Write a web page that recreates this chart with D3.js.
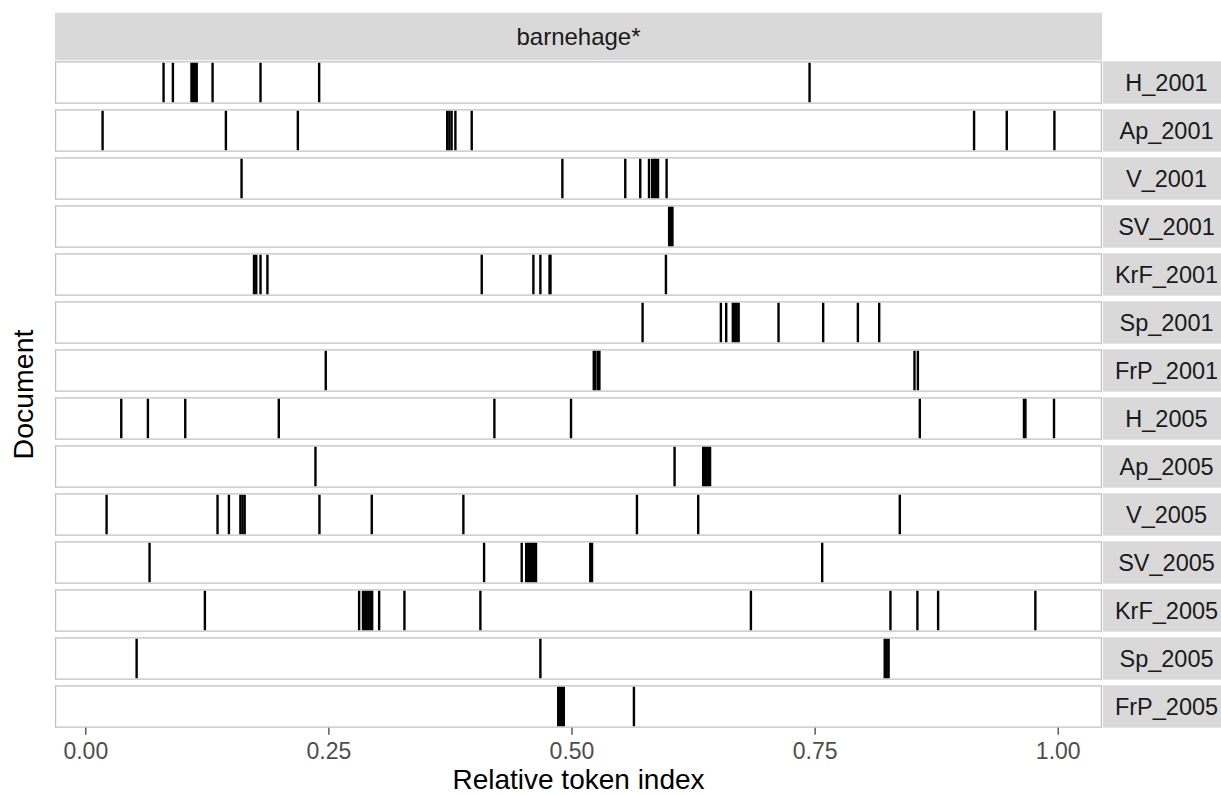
<!DOCTYPE html>
<html>
<head>
<meta charset="utf-8">
<script src="https://cdn.jsdelivr.net/npm/d3@7"></script>
<style>
  html, body { margin: 0; padding: 0; background: #fff; }
  svg { display: block; }
  text { font-family: "Liberation Sans", Arial, Helvetica, sans-serif; }
</style>
</head>
<body>
<svg id="chart" width="1221" height="795"></svg>
<script>
// ---- data ----
const term = "barnehage*";
const documents = ["H_2001", "Ap_2001", "V_2001", "SV_2001", "KrF_2001", "Sp_2001", "FrP_2001",
                   "H_2005", "Ap_2005", "V_2005", "SV_2005", "KrF_2005", "Sp_2005", "FrP_2005"];

const H_2001   = [0.0805, 0.0901, 0.1092, 0.1110, 0.1128, 0.1146, 0.1309, 0.1802, 0.2405, 0.7448];
const Ap_2001  = [0.0178, 0.1446, 0.2186, 0.3722, 0.3744, 0.3767, 0.3806, 0.3974, 0.914, 0.9476, 0.9966];
const V_2001   = [0.1607, 0.4906, 0.5553, 0.5707, 0.5797, 0.5829, 0.5849, 0.5869, 0.5890, 0.5978];
const SV_2001  = [0.6004, 0.6021, 0.6038];
const KrF_2001 = [0.1735, 0.1758, 0.1802, 0.1873, 0.4077, 0.4608, 0.468, 0.4774, 0.4784, 0.5971];
const Sp_2001  = [0.5731, 0.6536, 0.6591, 0.6659, 0.6679, 0.6699, 0.6719, 0.7129, 0.7588, 0.7945, 0.8164];
const FrP_2001 = [0.2473, 0.5229, 0.5245, 0.5271, 0.5287, 0.8527, 0.8562];
const H_2005   = [0.0370, 0.0644, 0.1028, 0.1990, 0.4207, 0.4995, 0.8582, 0.9653, 0.9668, 0.9962];
const Ap_2005  = [0.2367, 0.6060, 0.6354, 0.6372, 0.6390, 0.6408, 0.6425];
const V_2005   = [0.0219, 0.136, 0.1477, 0.1595, 0.1617, 0.1639, 0.2408, 0.2946, 0.3888, 0.5673, 0.6303, 0.8376];
const SV_2005  = [0.0661, 0.4101, 0.4488, 0.4534, 0.4554, 0.4574, 0.4595, 0.4615, 0.4635, 0.5193, 0.5211, 0.7578];
const KrF_2005 = [0.123, 0.2816, 0.2856, 0.2875, 0.2894, 0.2913, 0.2932, 0.2950, 0.3022, 0.3282, 0.4063,
                  0.6845, 0.828, 0.8557, 0.877, 0.977];
const Sp_2005  = [0.0528, 0.468, 0.8221, 0.8241, 0.8261];
const FrP_2005 = [0.4863, 0.4883, 0.4903, 0.4921, 0.5642];

const positions = [H_2001, Ap_2001, V_2001, SV_2001, KrF_2001, Sp_2001, FrP_2001,
                   H_2005, Ap_2005, V_2005, SV_2005, KrF_2005, Sp_2005, FrP_2005];

const xTicks = [0, 0.25, 0.5, 0.75, 1];
const xTitle = "Relative token index";
const yTitle = "Document";

// ---- layout ----
const panelLeft = 55, panelRight = 1102;
const panelTop = 61.3, panelBottom = 727.7;
const stripTop = 12.7, stripBottom = 60.3;
const rStripLeft = 1103, rStripRight = 1232;

const svg = d3.select("#chart");

// x scale with ggplot-like 5% expansion of the data range
const all = positions.flat();
const [mn, mx] = d3.extent(all);
const ex = (mx - mn) * 0.05;
const x = d3.scaleLinear().domain([mn - ex, mx + ex]).range([panelLeft, panelRight]);

const y = d3.scaleBand().domain(documents).range([panelTop, panelBottom])
  .paddingInner(0.1167).paddingOuter(0);

// top strip
svg.append("rect")
  .attr("x", panelLeft).attr("y", stripTop)
  .attr("width", panelRight - panelLeft).attr("height", stripBottom - stripTop)
  .attr("fill", "#D9D9D9");
svg.append("text")
  .attr("x", (panelLeft + panelRight) / 2).attr("y", 45)
  .attr("text-anchor", "middle")
  .attr("font-size", 24).attr("fill", "#1A1A1A")
  .text(term);

// panels
const rows = svg.append("g").selectAll("g.row")
  .data(documents.map((d, i) => ({ doc: d, vals: positions[i] })))
  .join("g").attr("class", "row");

rows.append("rect")
  .attr("x", panelLeft + 0.6).attr("y", d => y(d.doc) + 0.6)
  .attr("width", panelRight - panelLeft - 1.2).attr("height", y.bandwidth() - 1.2)
  .attr("fill", "#fff").attr("stroke", "#BEBEBE").attr("stroke-width", 1.2);

rows.selectAll("line.tok")
  .data(d => d.vals.map(v => ({ doc: d.doc, v })))
  .join("line").attr("class", "tok")
  .attr("x1", d => x(d.v)).attr("x2", d => x(d.v))
  .attr("y1", d => y(d.doc) + 1.5).attr("y2", d => y(d.doc) + y.bandwidth() - 1.5)
  .attr("stroke", "#000").attr("stroke-width", 2.4);

// right strips
rows.append("rect")
  .attr("x", rStripLeft).attr("y", d => y(d.doc))
  .attr("width", rStripRight - rStripLeft).attr("height", y.bandwidth())
  .attr("fill", "#D9D9D9");
rows.append("text")
  .attr("x", 1166.5).attr("y", d => y(d.doc) + y.bandwidth() / 2 + 8.6)
  .attr("text-anchor", "middle")
  .attr("font-size", 23.5).attr("fill", "#1A1A1A")
  .text(d => d.doc);

// x axis
const xAxis = d3.axisBottom(x).tickValues(xTicks).tickFormat(d3.format(".2f"))
  .tickSize(7).tickPadding(4);
const gx = svg.append("g").attr("transform", `translate(0,${panelBottom})`).call(xAxis);
gx.select(".domain").remove();
gx.selectAll(".tick line").attr("stroke", "#333333").attr("stroke-width", 1.2);
gx.selectAll(".tick text")
  .attr("font-size", 23).attr("fill", "#4D4D4D")
  .attr("font-family", "'Liberation Sans', Arial, Helvetica, sans-serif")
  .attr("dy", null).attr("y", 31.7);

// axis titles
svg.append("text")
  .attr("x", (panelLeft + panelRight) / 2).attr("y", 788.5)
  .attr("text-anchor", "middle").attr("font-size", 28).attr("fill", "#000")
  .text(xTitle);
svg.append("text")
  .attr("transform", `translate(33,${(panelTop + panelBottom) / 2}) rotate(-90)`)
  .attr("text-anchor", "middle").attr("font-size", 28.5).attr("fill", "#000")
  .text(yTitle);
</script>
</body>
</html>
